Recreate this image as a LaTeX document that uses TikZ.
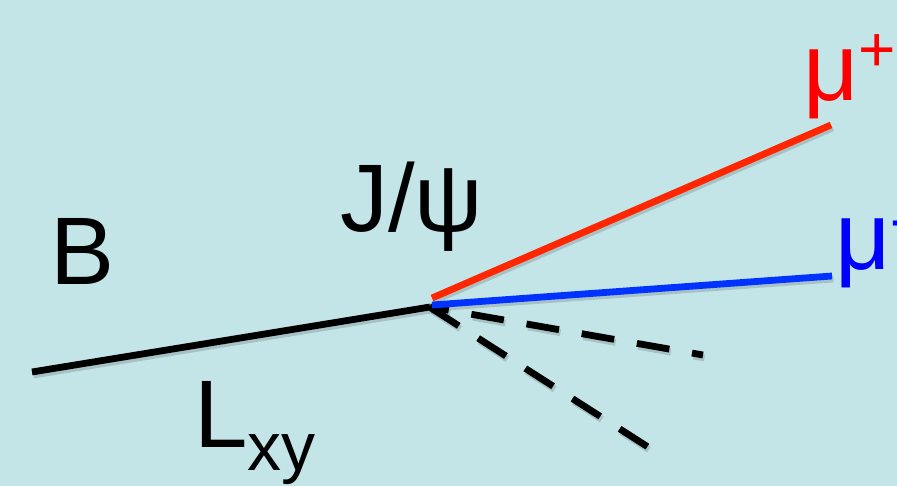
\documentclass[tikz,border=0pt]{standalone}
\usepackage{fontspec}
\setmainfont{Liberation Sans}
\definecolor{bg}{RGB}{196,229,232}
\definecolor{mured}{RGB}{255,0,0}
\definecolor{redline}{RGB}{255,38,0}
\definecolor{mublue}{RGB}{0,0,255}
\definecolor{blueline}{RGB}{0,51,255}
\begin{document}
\begin{tikzpicture}[x=1pt,y=-1pt,
  track/.style={line width=6.8pt, line cap=butt},
  dashtrack/.style={track, dash pattern=on 33pt off 23pt},
  shadowed/.style={black, opacity=0.15, transform canvas={xshift=1.5pt,yshift=-3pt}},
  lbl/.style={inner sep=0pt, anchor=base west, font=\fontsize{96}{96}\selectfont}]
\fill[bg] (0,0) rectangle (897,486);
\clip (0,0) rectangle (897,486);
\useasboundingbox (0,0) rectangle (897,486);

\coordinate (bstart) at (32,372);
\coordinate (vtx) at (430,307);
\coordinate (redstart) at (432,298);
\coordinate (redend) at (831,125);
\coordinate (bluestart) at (432,305);
\coordinate (blueend) at (832,276);
\coordinate (d1start) at (430,307);
\coordinate (d1end) at (703,355);
\coordinate (d2start) at (431,308);
\coordinate (d2end) at (648,447);

% shadows
\draw[track, shadowed] (bstart) -- (vtx);
\draw[track, shadowed] (redstart) -- (redend);
\draw[track, shadowed] (bluestart) -- (blueend);
\draw[dashtrack, dash phase=14pt, shadowed] (d1start) -- (d1end);
\draw[dashtrack, shadowed] (d2start) -- (d2end);

% tracks
\draw[track, black] (bstart) -- (vtx);
\draw[dashtrack, dash phase=14pt, black] (d1start) -- (d1end);
\draw[dashtrack, black] (d2start) -- (d2end);
\draw[track, redline] (redstart) -- (redend);
\draw[track, blueline] (bluestart) -- (blueend);

% labels
\node[lbl] (B) at (50,285) {B};
\node[lbl] (J) at (340,232) {J/ψ};
\node[lbl] (L) at (194,447) {L\raisebox{-23pt}{\fontsize{68}{68}\selectfont xy}};
\node[lbl, text=mured] (mup) at (803,101) {μ\raisebox{29pt}{\fontsize{64}{64}\selectfont +}};
\node[lbl, text=mublue] (mum) at (835,270) {μ\raisebox{29pt}{\fontsize{64}{64}\selectfont -}};
\end{tikzpicture}
\end{document}
